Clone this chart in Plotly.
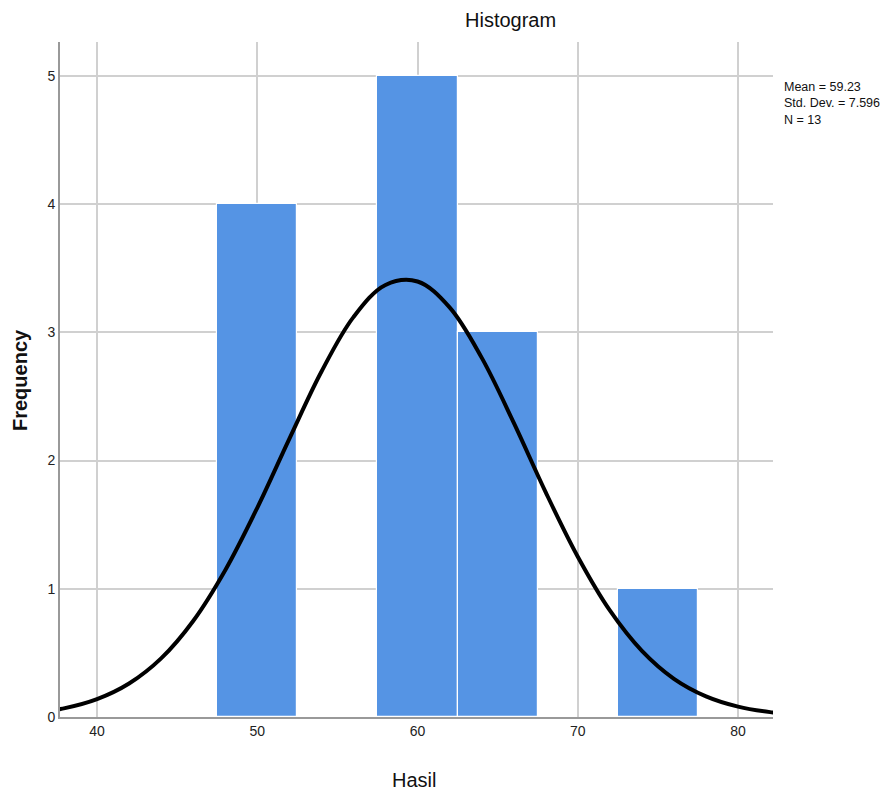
import plotly.graph_objects as go

# Histogram bins (bin centres, width 5) and frequencies
bin_centers = [50, 60, 65, 75]
frequencies = [4, 5, 3, 1]
bin_width = 5

# Normal curve points
curve_x = [36, 38, 40, 42, 44, 46, 48, 50, 52, 54, 56, 58, 60, 62, 64, 66, 68, 70, 72, 74, 76, 78, 80, 82, 84]
curve_y = [0.032, 0.069, 0.139, 0.261, 0.457, 0.749, 1.145, 1.632, 2.170, 2.693, 3.119, 3.370, 3.397,
           3.195, 2.803, 2.296, 1.752, 1.250, 0.831, 0.516, 0.298, 0.161, 0.081, 0.038, 0.017]

x_ticks = [40, 50, 60, 70, 80]
y_ticks = [0, 1, 2, 3, 4, 5]
stats_text = ["Mean = 59.23", "Std. Dev. = 7.596", "N = 13"]

FONT = "Liberation Sans Narrow, Arial Narrow, Liberation Sans, Arial, sans-serif"

# page offset (body margin) of 8px
OFF = 8
L, T = 60 - OFF, 42 - OFF
R_PX, B_PX = 773 - OFF, 717 - OFF
W, H = 889, 800
PW, PH = R_PX - L, B_PX - T


def px(xp):
    return (xp - OFF - L) / PW


def py(yp):
    return (B_PX - (yp - OFF)) / PH


fig = go.Figure()
fig.add_trace(go.Bar(
    x=bin_centers, y=frequencies, width=[bin_width] * len(bin_centers),
    marker=dict(color="#5594E4", line=dict(color="white", width=1.2)),
    hoverinfo="skip", showlegend=False,
))
fig.add_trace(go.Scatter(
    x=curve_x, y=curve_y, mode="lines", line=dict(color="black", width=4, shape="spline"),
    hoverinfo="skip", showlegend=False,
))

fig.update_layout(
    width=W, height=H,
    margin=dict(l=L, r=W - R_PX, t=T, b=H - B_PX),
    plot_bgcolor="white", paper_bgcolor="white",
    font=dict(family=FONT, color="#222222", size=13),
    bargap=0,
    xaxis=dict(
        range=[37.69, 82.18], tickvals=x_ticks, ticktext=[str(v) for v in x_ticks],
        showgrid=True, gridcolor="#D0D0D0", gridwidth=1.5,
        showline=True, linecolor="#999999", linewidth=2,
        zeroline=False, ticks="", ticklen=0, tickfont=dict(size=14, family=FONT),
        layer="below traces",
    ),
    yaxis=dict(
        range=[0, 5.265], tickvals=y_ticks, ticktext=[str(v) for v in y_ticks],
        showgrid=True, gridcolor="#D0D0D0", gridwidth=1.5,
        showline=True, linecolor="#999999", linewidth=2,
        zeroline=False, ticks="", tickfont=dict(size=14, family=FONT),
        layer="below traces",
    ),
)

fig.add_annotation(text="Histogram", xref="paper", yref="paper",
                   x=px(511), y=py(20), xanchor="center", yanchor="middle",
                   showarrow=False, font=dict(size=20, family=FONT, color="#111111"))
fig.add_annotation(text="<b>Frequency</b>", xref="paper", yref="paper",
                   x=px(20), y=py(380), xanchor="center", yanchor="middle",
                   textangle=-90, showarrow=False,
                   font=dict(size=20, family="Liberation Sans, Arial, sans-serif", color="#111111"))
fig.add_annotation(text="Hasil", xref="paper", yref="paper",
                   x=px(414), y=py(780), xanchor="center", yanchor="middle",
                   showarrow=False, font=dict(size=20, family=FONT, color="#111111"))
fig.add_annotation(text="<br>".join(stats_text), xref="paper", yref="paper",
                   x=px(782), y=py(78), xanchor="left", yanchor="top",
                   align="left", showarrow=False,
                   font=dict(size=12.5, family=FONT, color="#111111"))

fig.write_html("out.html")
